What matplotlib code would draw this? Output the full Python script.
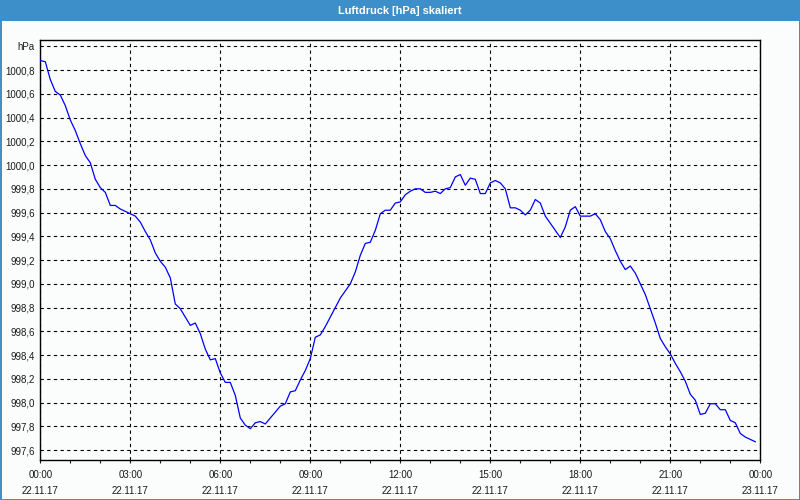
import numpy as np
import matplotlib
matplotlib.use("Agg")
import matplotlib.pyplot as plt
from matplotlib.patches import Rectangle

title = "Luftdruck [hPa] skaliert"

# sample times in minutes after 22.11.17 00:00 (10-minute readings)
minutes = np.arange(0, 1440, 10)

pressure = [
    1000.88, 1000.87, 1000.72, 1000.62, 1000.59, 1000.50,
    1000.38, 1000.29, 1000.18, 1000.08, 1000.02, 999.88,
    999.81, 999.77, 999.66, 999.66, 999.63, 999.61,
    999.59, 999.57, 999.52, 999.44, 999.37, 999.26,
    999.19, 999.14, 999.05, 998.83, 998.79, 998.72,
    998.65, 998.67, 998.58, 998.45, 998.36, 998.37,
    998.25, 998.17, 998.17, 998.06, 997.87, 997.81,
    997.78, 997.83, 997.84, 997.82, 997.87, 997.92,
    997.97, 997.99, 998.09, 998.10, 998.19, 998.27,
    998.37, 998.55, 998.57, 998.64, 998.72, 998.80,
    998.88, 998.94, 999.00, 999.10, 999.24, 999.34,
    999.35, 999.45, 999.59, 999.62, 999.62, 999.68,
    999.69, 999.75, 999.78, 999.80, 999.80, 999.77,
    999.77, 999.78, 999.76, 999.80, 999.81, 999.90,
    999.92, 999.83, 999.89, 999.88, 999.76, 999.76,
    999.85, 999.87, 999.85, 999.80, 999.64, 999.64,
    999.62, 999.58, 999.62, 999.71, 999.68, 999.57,
    999.51, 999.45, 999.39, 999.48, 999.62, 999.65,
    999.57, 999.57, 999.57, 999.59, 999.54, 999.44,
    999.38, 999.28, 999.19, 999.12, 999.15, 999.09,
    999.00, 998.91, 998.79, 998.67, 998.54, 998.47,
    998.41, 998.33, 998.26, 998.18, 998.07, 998.02,
    997.90, 997.91, 997.99, 997.99, 997.94, 997.94,
    997.85, 997.83, 997.74, 997.71, 997.69, 997.67,
]

x_tick_hours = [0, 3, 6, 9, 12, 15, 18, 21, 24]
x_tick_labels = ["00:00\n22.11.17", "03:00\n22.11.17", "06:00\n22.11.17",
                 "09:00\n22.11.17", "12:00\n22.11.17", "15:00\n22.11.17",
                 "18:00\n22.11.17", "21:00\n22.11.17", "00:00\n23.11.17"]
y_ticks = [997.6, 997.8, 998.0, 998.2, 998.4, 998.6, 998.8, 999.0, 999.2,
           999.4, 999.6, 999.8, 1000.0, 1000.2, 1000.4, 1000.6, 1000.8, 1001.0]
y_tick_labels = ["997,6", "997,8", "998,0", "998,2", "998,4", "998,6", "998,8",
                 "999,0", "999,2", "999,4", "999,6", "999,8", "1000,0", "1000,2",
                 "1000,4", "1000,6", "1000,8", "hPa"]

plt.rcParams['font.family'] = ['Liberation Sans', 'DejaVu Sans']

bg = "#FBFDFC"
blue = "#3C8FC8"
fig = plt.figure(figsize=(8, 5), dpi=100, facecolor=bg)

# title bar and frame
fig.patches.append(Rectangle((0, 1 - 20.5 / 500), 1, 20.5 / 500, transform=fig.transFigure,
                             facecolor=blue, edgecolor="none", zorder=0))
fig.patches.append(Rectangle((0.5 / 800, 0.5 / 500), 1 - 1.0 / 800, 1 - 1.0 / 500,
                             transform=fig.transFigure, facecolor="none",
                             edgecolor=blue, linewidth=1.4, zorder=1))
fig.text(0.5, 1 - 10.5 / 500, title, color="white", ha="center", va="center",
         fontsize=7.9, fontweight="bold")

ax = fig.add_axes([40.3 / 800, 1 - 460.3 / 500, 720 / 800, 420 / 500])
ax.set_facecolor(bg)

hours = np.asarray(minutes) / 60.0
ax.plot(hours, pressure, color="#0000FF", linewidth=0.9, zorder=3)

ax.set_xlim(0, 24)
ax.set_ylim(997.514, 1001.0505)

ax.set_xticks(x_tick_hours)
ax.set_xticklabels(x_tick_labels, linespacing=1.75)
ax.set_xticks(np.arange(0, 25, 1), minor=True)
ax.set_yticks(y_ticks)
ax.set_yticklabels(y_tick_labels)

ax.tick_params(axis="x", which="major", length=2, width=0.8, pad=5,
               labelsize=7.0, colors="#1a1a1a")
ax.tick_params(axis="x", which="minor", length=2, width=0.8, colors="#1a1a1a")
ax.tick_params(axis="y", which="major", length=0, pad=4, labelsize=7.0,
               colors="#1a1a1a")

ax.grid(True, which="major", color="black", linestyle=(0, (3, 3)), linewidth=0.8)
ax.set_axisbelow(True)
for s in ax.spines.values():
    s.set_color("black")
    s.set_linewidth(1.0)

fig.savefig("out.png", dpi=100, facecolor=bg)
